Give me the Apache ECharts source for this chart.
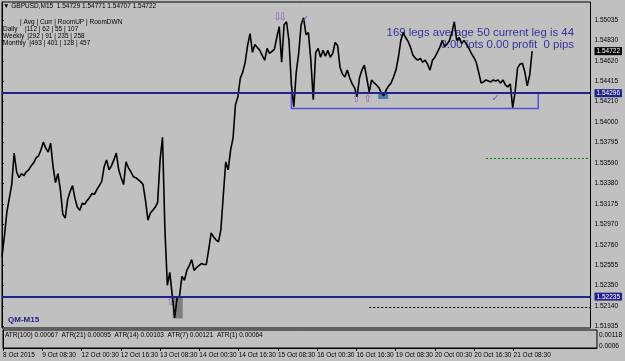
<!DOCTYPE html>
<html><head><meta charset="utf-8">
<script src="https://cdn.jsdelivr.net/npm/echarts@6/dist/echarts.min.js"></script>
<style>html,body{margin:0;padding:0;background:#c0c0c0}#c{width:625px;height:361px}</style>
</head><body><div id="c"></div>
<script>
// ---- data ----
const timeLabels = ['8 Oct 2015','9 Oct 08:30','12 Oct 00:30','12 Oct 16:30','13 Oct 08:30','14 Oct 00:30','14 Oct 16:30','15 Oct 08:30','16 Oct 00:30','16 Oct 16:30','19 Oct 08:30','20 Oct 00:30','20 Oct 16:30','21 Oct 08:30'];
const slotsPerLabel = 16;     // hourly slots between time labels
const totalSlots = 242;       // visible hourly slots
const prices = [
1.5264,1.5285,1.5309,1.5323,1.5337,1.5369,1.5350,1.5344,1.5348,1.5346,1.5350,1.5352,1.5356,1.5359,1.5364,1.5366,
1.5372,1.5380,1.5374,1.5370,1.5379,1.5355,1.5339,1.5348,1.5332,1.5307,1.5303,1.5322,1.5330,1.5336,1.5323,1.5314,
1.5311,1.5318,1.5317,1.5321,1.5324,1.5328,1.5327,1.5332,1.5336,1.5340,1.5355,1.5362,1.5352,1.5356,1.5362,1.5369,
1.5352,1.5344,1.5337,1.5360,1.5354,1.5350,1.5345,1.5344,1.5342,1.5340,1.5337,1.5321,1.5301,1.5308,1.5311,1.5314,
1.5319,1.5362,1.5385,1.5291,1.5235,1.5248,1.5225,1.5202,1.5222,1.5224,1.5244,1.5240,1.5250,1.5255,1.5261,1.5250,
1.5253,1.5255,1.5257,1.5256,1.5256,1.5271,1.5288,1.5284,1.5281,1.5279,1.5291,1.5326,1.5360,1.5352,1.5372,1.5384,
1.5418,1.5426,1.5445,1.5451,1.5461,1.5478,1.5490,1.5471,1.5479,1.5476,1.5473,1.5468,1.5463,1.5475,1.5470,1.5472,
1.5474,1.5486,1.5497,1.5461,1.5499,1.5502,1.5483,1.5438,1.5416,1.5451,1.5470,1.5499,1.5506,1.5489,1.5491,1.5463,
1.5423,1.5471,1.5475,1.5466,1.5473,1.5467,1.5473,1.5466,1.5470,1.5481,1.5478,1.5456,1.5449,1.5446,1.5453,1.5445,
1.5439,1.5435,1.5426,1.5445,1.5453,1.5458,1.5445,1.5431,1.5443,1.5440,1.5438,1.5435,1.5430,1.5427,1.5433,1.5437,
1.5440,1.5446,1.5453,1.5466,1.5483,1.5491,1.5486,1.5482,1.5476,1.5468,1.5465,1.5463,1.5465,1.5461,1.5463,1.5459,
1.5453,1.5463,1.5466,1.5471,1.5476,1.5483,1.5477,1.5479,1.5483,1.5491,1.5502,1.5483,1.5486,1.5480,1.5483,1.5479,
1.5475,1.5470,1.5466,1.5461,1.5451,1.5440,1.5441,1.5443,1.5442,1.5441,1.5443,1.5442,1.5443,1.5440,1.5443,1.5438,
1.5436,1.5439,1.5415,1.5431,1.5455,1.5459,1.5460,1.5451,1.5437,1.5448,1.54722
];
const priceTicks = [1.55035,1.54830,1.54620,1.54415,1.54210,1.54000,1.53795,1.53590,1.53380,1.53175,1.52970,1.52760,1.52555,1.52350,1.52140,1.51935];
const priceRange = [1.51917, 1.55220];
const currentPrice = 1.54722;
const levelPrices = [1.54296, 1.52235];
const greenDashed = {from: 199, price: 1.5364};
const blackDashed = {from: 151, price: 1.5213};
const rangeBox = {x0: 119, x1: 220.5, top: 1.54296, bottom: 1.54141};
const grayBox = {x0: 70.2, x1: 74.3, top: 1.52235, bottom: 1.52014};
const blueBlock = {x0: 154.7, x1: 158.8, top: 1.54296, bottom: 1.54237};
const signals = [
  [113.3, 1.5506, '⇩'], [115.4, 1.5506, '⇩'], [124.7, 1.5504, '✓'],
  [145.6, 1.5423, '⇧'], [150.4, 1.5423, '⇧'], [203, 1.5424, '✓'], [69.4, 1.52176, '⇧']
];
const atrRange = [0.000495, 0.001444];
const atrTicks = [0.00118, 0.0006];
const atrTickText = ['0.00118', '0.0006'];
const headerText = 'GBPUSD,M15  1.54729 1.54771 1.54707 1.54722';
const tableHeader = '| Avg | Curr | RoomUP | RoomDWN';
const tableNames = ['Daily', 'Weekly', 'Monthly'];
const tableRows = ['|112 | 62 | 55 | 107', '|292 | 91 | 235 | 258', '|493 | 401 | 128 | 457'];
const legsText = ['169 legs average 50 current leg is 44', '0.00 lots 0.00 profit  0 pips'];
const atrText = 'ATR(100) 0.00067  ATR(21) 0.00095  ATR(14) 0.00103  ATR(7) 0.00121  ATR(1) 0.00064';
const panelName = 'QM-M15';

// ---- chart ----
const FONT = 'Liberation Sans';
const labelSlots = timeLabels.map((_, i) => i * slotsPerLabel);
const navy = '#22228c';
const near = (a, b) => Math.abs(a - b) < 1e-7;

const chart = echarts.init(document.getElementById('c'), null, {renderer: 'canvas'});
const g = [];
const txt = (x, y, text, font, fill, align) => g.push({type: 'text', z: 0, style: {x, y, text, font, fill, align: align || 'left', verticalAlign: 'middle'}});
txt(3, 6.5, '▼ ' + headerText, '6.5px ' + FONT, '#000');
txt(20, 22, tableHeader, '6.5px ' + FONT, '#000');
[25, 27.3, 29.3].forEach((x, i) => { txt(3, 29 + i * 7.2, tableNames[i], '6.5px ' + FONT, '#000'); txt(x, 29 + i * 7.2, tableRows[i], '6.5px ' + FONT, '#000'); });
txt(574, 32.5, legsText[0], '11.4px ' + FONT, '#33339a', 'right');
txt(574, 44.5, legsText[1], '11.4px ' + FONT, '#33339a', 'right');
txt(8, 320, panelName, 'bold 8px ' + FONT, navy);
txt(5, 335.5, atrText, '6.5px ' + FONT, '#000');

const hLine = (p, style) => [{coord: [0, p], lineStyle: style}, {coord: [totalSlots, p]}];

chart.setOption({
  animation: false,
  backgroundColor: '#c0c0c0',
  graphic: g,
  grid: [
    {left: 2, right: 27, top: 2, height: 326, show: true, borderColor: '#000', borderWidth: 1, backgroundColor: 'transparent'},
    {left: 2, right: 27, top: 330, height: 18, show: true, borderColor: '#000', borderWidth: 1, backgroundColor: 'transparent'}
  ],
  xAxis: [
    {type: 'value', gridIndex: 0, min: 0, max: totalSlots, axisLine: {show: false}, axisTick: {show: false}, axisLabel: {show: false}, splitLine: {show: false}},
    {type: 'value', gridIndex: 1, min: 0, max: totalSlots, axisLine: {show: true, lineStyle: {color: '#000'}},
      axisTick: {show: true, customValues: labelSlots, length: 3, lineStyle: {color: '#000'}},
      axisLabel: {customValues: labelSlots, formatter: v => timeLabels[Math.round(v / slotsPerLabel)] || '', align: 'left', fontSize: 6.5, fontFamily: FONT, color: '#000', margin: 4},
      splitLine: {show: false}}
  ],
  yAxis: [
    {type: 'value', gridIndex: 0, position: 'right', min: priceRange[0], max: priceRange[1],
      axisLine: {show: true, lineStyle: {color: '#000'}},
      axisTick: {show: true, customValues: priceTicks, length: 2, lineStyle: {color: '#000'}},
      axisLabel: {customValues: priceTicks.concat([currentPrice], levelPrices), fontSize: 6.5, fontFamily: FONT, color: '#000', margin: 4,
        formatter: v => near(v, currentPrice) ? '{cur|' + v.toFixed(5) + '}' : (levelPrices.some(l => near(l, v)) ? '{lvl|' + v.toFixed(5) + '}' : v.toFixed(5)),
        rich: {
          cur: {backgroundColor: '#000', color: '#fff', fontSize: 6.5, fontFamily: FONT, padding: [1, 2, 0, 2]},
          lvl: {backgroundColor: navy, color: '#fff', fontSize: 6.5, fontFamily: FONT, padding: [1, 2, 0, 2]}
        }},
      splitLine: {show: false}},
    {type: 'value', gridIndex: 1, position: 'right', min: atrRange[0], max: atrRange[1],
      axisLine: {show: true, lineStyle: {color: '#000'}}, axisTick: {show: false},
      axisLabel: {customValues: atrTicks, formatter: v => atrTickText[atrTicks.findIndex(t => near(t, v))] || '', fontSize: 6.5, fontFamily: FONT, color: '#000', margin: 2},
      splitLine: {show: false}}
  ],
  series: [
    {type: 'line', xAxisIndex: 0, yAxisIndex: 0, data: [], z: 1, silent: true,
      markArea: {silent: true, data: [
        [{xAxis: grayBox.x0, yAxis: grayBox.top, itemStyle: {color: '#7f7f7f'}}, {xAxis: grayBox.x1, yAxis: grayBox.bottom}],
        [{xAxis: blueBlock.x0, yAxis: blueBlock.top, itemStyle: {color: '#4a7db5'}}, {xAxis: blueBlock.x1, yAxis: blueBlock.bottom}],
        [{xAxis: rangeBox.x0, yAxis: rangeBox.top, itemStyle: {color: 'rgba(0,0,0,0)', borderColor: '#5050e0', borderWidth: 1.5}}, {xAxis: rangeBox.x1, yAxis: rangeBox.bottom}]
      ]},
      markLine: {silent: true, symbol: ['none', 'none'], precision: 5, label: {show: false}, data: [
        hLine(levelPrices[0], {color: navy, width: 2, type: 'solid'}),
        hLine(levelPrices[1], {color: navy, width: 2, type: 'solid'}),
        [{coord: [greenDashed.from, greenDashed.price], lineStyle: {color: '#008000', width: 1, type: [2, 2]}}, {coord: [totalSlots, greenDashed.price]}],
        [{coord: [blackDashed.from, blackDashed.price], lineStyle: {color: '#000', width: 1, type: [2, 2]}}, {coord: [totalSlots, blackDashed.price]}]
      ]}
    },
    {type: 'line', xAxisIndex: 0, yAxisIndex: 0, z: 3, data: prices.map((p, i) => [i, p]), showSymbol: false, symbol: 'none',
      lineStyle: {color: '#000', width: 1.6}},
    {type: 'scatter', xAxisIndex: 0, yAxisIndex: 0, z: 4, data: signals, symbolSize: 1, itemStyle: {color: 'rgba(0,0,0,0)'},
      label: {show: true, position: 'inside', formatter: p => p.data[2], color: '#7a3cb8', fontSize: 10, fontFamily: 'DejaVu Sans'}}
  ]
});
</script></body></html>
